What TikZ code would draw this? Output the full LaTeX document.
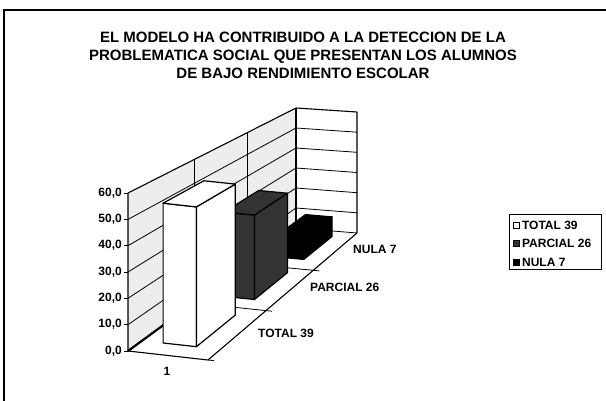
\documentclass[tikz,border=0pt]{standalone}
\usepackage{fontspec}
\setmainfont{Liberation Sans}
\usetikzlibrary{positioning}
\tikzset{
  wall/.style={line width=1.1pt,line join=round},
  gridline/.style={line width=0.8pt},
  barface/.style={draw,line width=1.2pt,line join=round},
  lbl/.style={font=\fontsize{12}{14}\selectfont\bfseries,inner sep=0pt},
  titlefont/.style={font=\fontsize{15}{18}\selectfont\bfseries,align=center,inner sep=0pt},
  legmark/.style={draw,line width=0.8pt,minimum size=6pt,inner sep=0pt}
}

\begin{document}
\begin{tikzpicture}[x=1pt,y=-1pt]
    \useasboundingbox (0,0) rectangle (606,401);
    \draw[line width=1.2pt] (4,430) -- (4,10) -- (630,10);
    \node[titlefont] (title) at (303,55) {EL MODELO HA CONTRIBUIDO A LA DETECCION DE LA\\
        PROBLEMATICA SOCIAL QUE PRESENTAN LOS ALUMNOS\\
        DE BAJO RENDIMIENTO ESCOLAR};
    % walls and floor
    \fill[black!7] (128,351) -- (128,193) -- (296,108) -- (296,228) -- cycle;
    \draw[gridline] (128,324.7) -- (296,208) -- (357,212.8)
        (128,298.3) -- (296,188) -- (357,192.7)
        (128,272) -- (296,168) -- (357,172.5)
        (128,245.7) -- (296,148) -- (357,152.3)
        (128,219.4) -- (296,128) -- (357,132.2)
        (296,228) -- (357,233);
    \draw[gridline] (194,303.1) -- (194,159.6) (247.2,264) -- (247.2,132.7);
    \draw[gridline] (194,303.1) -- (265.9,310.6) (247.2,264) -- (313.3,270.3);
    \draw[wall] (128,351) -- (128,193) -- (296,108) -- (357,112) -- (357,233);
    \draw[wall] (296,108) -- (296,228);
    \draw[wall] (128,351) -- (208,360) -- (357,233);
    \draw[line width=2.2pt] (128,351) -- (296,228);
    \draw[gridline] (124,351) -- (128,351) (124,324.7) -- (128,324.7)
        (124,298.3) -- (128,298.3) (124,272) -- (128,272)
        (124,245.7) -- (128,245.7) (124,219.4) -- (128,219.4)
        (124,193) -- (128,193);
    \draw[gridline] (208,360) -- (214,360.6) (265.9,310.6) -- (271.9,311.2)
        (313.3,270.3) -- (319.3,270.9);
    % bars
    \filldraw[barface,fill=black] (275.9,256.9) -- (303.8,259.4) -- (303.8,238.7) -- (275.9,236.2) -- cycle;
    \filldraw[barface,fill=black] (303.8,259.4) -- (332,236.5) -- (332,216.9) -- (303.8,238.7) -- cycle;
    \filldraw[barface,fill=black] (275.9,236.2) -- (303.8,238.7) -- (332,216.9) -- (305.5,214.6) -- cycle;
    \filldraw[barface,fill=black!80] (224.1,296.4) -- (254.5,299.5) -- (254.5,215.1) -- (224.1,212) -- cycle;
    \filldraw[barface,fill=black!80] (254.5,299.5) -- (287.4,272.7) -- (287.4,193.2) -- (254.5,215.1) -- cycle;
    \filldraw[barface,fill=black!80] (224.1,212) -- (254.5,215.1) -- (287.4,193.2) -- (258.7,190.5) -- cycle;
    \filldraw[barface,fill=white] (163.1,343) -- (196.4,346.7) -- (196.4,206.9) -- (163.1,203.2) -- cycle;
    \filldraw[barface,fill=white] (196.4,346.7) -- (235.3,315.1) -- (235.3,184.1) -- (196.4,206.9) -- cycle;
    \filldraw[barface,fill=white] (163.1,203.2) -- (196.4,206.9) -- (235.3,184.1) -- (203.9,180.8) -- cycle;
    % axis labels
    \node[lbl,anchor=east] (y0) at (122,351) {0,0};
    \node[lbl,anchor=east] (y10) at (122,324.7) {10,0};
    \node[lbl,anchor=east] (y20) at (122,298.3) {20,0};
    \node[lbl,anchor=east] (y30) at (122,272) {30,0};
    \node[lbl,anchor=east] (y40) at (122,245.7) {40,0};
    \node[lbl,anchor=east] (y50) at (122,219.4) {50,0};
    \node[lbl,anchor=east] (y60) at (122,193) {60,0};
    \node[lbl] (cat1) at (167,371) {1};
    \node[lbl,anchor=west] (serT) at (258,333) {TOTAL 39};
    \node[lbl,anchor=west] (serP) at (310,287) {PARCIAL 26};
    \node[lbl,anchor=west] (serN) at (353,249) {NULA 7};
    % legend
    \draw[line width=1pt] (509,215) rectangle (601,270);
    \node[legmark,fill=white] (mT) at (516.5,225) {};
    \node[legmark,fill=black!80] (mP) at (516.5,243) {};
    \node[legmark,fill=black] (mN) at (516.5,262) {};
    \node[lbl,right=2pt of mT] (legT) {TOTAL 39};
    \node[lbl,right=2pt of mP] (legP) {PARCIAL 26};
    \node[lbl,right=2pt of mN] (legN) {NULA 7};
\end{tikzpicture}
\end{document}
